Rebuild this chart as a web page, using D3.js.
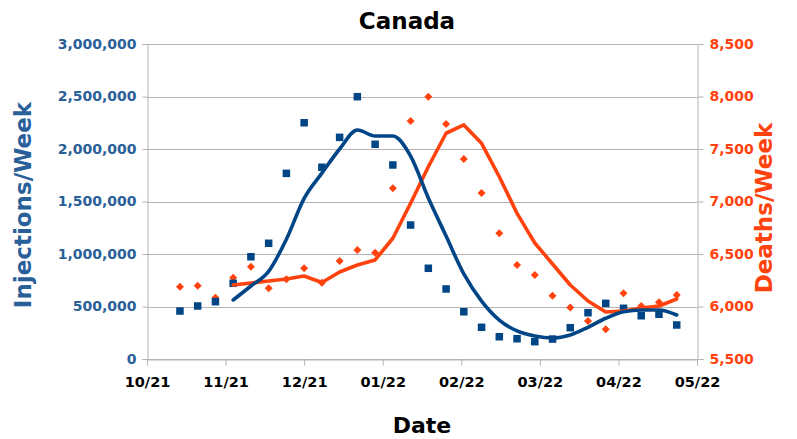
<!DOCTYPE html>
<html>
<head>
<meta charset="utf-8">
<script src="https://cdn.jsdelivr.net/npm/d3@7"></script>
<style>
  html, body { margin: 0; padding: 0; background: #ffffff; }
  svg { display: block; }
  text { font-family: "DejaVu Sans", sans-serif; font-weight: bold; }
</style>
</head>
<body>
<script>
// ---------------- data ----------------
const weekDates = [
  "2021-10-14","2021-10-21","2021-10-28","2021-11-04","2021-11-11","2021-11-18","2021-11-25",
  "2021-12-02","2021-12-09","2021-12-16","2021-12-23","2021-12-30","2022-01-06","2022-01-13",
  "2022-01-20","2022-01-27","2022-02-03","2022-02-10","2022-02-17","2022-02-24","2022-03-03",
  "2022-03-10","2022-03-17","2022-03-24","2022-03-31","2022-04-07","2022-04-14","2022-04-21",
  "2022-04-28"
];
const injections = [
  457000, 505000, 546000, 721000, 974000, 1102000, 1768000, 2250000, 1826000, 2111000,
  2498000, 2045000, 1848000, 1276000, 864000, 667000, 450000, 302000, 212000, 193000,
  165000, 190000, 298000, 441000, 530000, 483000, 412000, 426000, 324000
];
const deaths = [
  6189, 6198, 6084, 6274, 6379, 6173, 6259, 6364, 6227, 6433,
  6538, 6512, 7126, 7767, 7998, 7738, 7405, 7080, 6697, 6395,
  6300, 6103, 5990, 5862, 5783, 6126, 6005, 6040, 6110
];
const injectionsTrend = [
  null, null, null, 562000, 695000, 835000, 1140000, 1530000, 1770000, 2000000,
  2181000, 2124000, 2124000, 1933000, 1533000, 1171000, 810000, 552000, 371000, 267000,
  219000, 200000, 229000, 302000, 388000, 450000, 467000, 467000, 419000
];
const deathsTrend = [
  null, null, null, 6205, 6224, 6243, 6262, 6290, 6229, 6329,
  6395, 6443, 6650, 6983, 7331, 7650, 7729, 7554, 7236, 6887,
  6605, 6405, 6205, 6052, 5948, 5957, 5986, 6005, 6071
];
const xTickDates = ["2021-10-01","2021-11-01","2021-12-02","2022-01-02","2022-02-02","2022-03-05","2022-04-05","2022-05-06"];
const xTickLabels = ["10/21","11/21","12/21","01/22","02/22","03/22","04/22","05/22"];
const leftTicks = [0, 500000, 1000000, 1500000, 2000000, 2500000, 3000000];
const rightTicks = [5500, 6000, 6500, 7000, 7500, 8000, 8500];

const titleText = "Canada";
const leftTitle = "Injections/Week";
const rightTitle = "Deaths/Week";
const xTitle = "Date";

// ---------------- layout ----------------
const W = 797, H = 439;
const plot = { left: 147, right: 697, top: 44, bottom: 359 };
const BLUE = "#004586", ORANGE = "#ff420e";
const BLUE_TEXT = "#2a6099", ORANGE_TEXT = "#ff420e";
const GRID = "#b3b3b3";

const parse = d3.timeParse("%Y-%m-%d");

const x = d3.scaleTime()
  .domain([parse(xTickDates[0]), parse(xTickDates[xTickDates.length - 1])])
  .range([plot.left, plot.right]);
const yL = d3.scaleLinear().domain([0, 3000000]).range([plot.bottom, plot.top]);
const yR = d3.scaleLinear().domain([5500, 8500]).range([plot.bottom, plot.top]);

const svg = d3.select("body").append("svg").attr("width", W).attr("height", H);
svg.append("rect").attr("width", W).attr("height", H).attr("fill", "#fff");

// gridlines
svg.append("g").selectAll("line").data(leftTicks).join("line")
  .attr("x1", plot.left).attr("x2", plot.right)
  .attr("y1", d => Math.round(yL(d)) + 0.5).attr("y2", d => Math.round(yL(d)) + 0.5)
  .attr("stroke", GRID).attr("stroke-width", 1);

// left axis
const fmt = d3.format(",");
const gL = svg.append("g").attr("transform", `translate(${plot.left + 0.5},0)`)
  .call(d3.axisLeft(yL).tickValues(leftTicks).tickFormat(fmt).tickSize(5).tickPadding(6));
gL.select(".domain").attr("stroke", GRID);
gL.selectAll(".tick line").attr("stroke", GRID);
gL.selectAll(".tick text").attr("fill", BLUE_TEXT).style("font-size", "14px")
  .style("font-family", "DejaVu Sans").style("font-weight", "bold");

// right axis
const gR = svg.append("g").attr("transform", `translate(${plot.right + 0.5},0)`)
  .call(d3.axisRight(yR).tickValues(rightTicks).tickFormat(fmt).tickSize(6).tickPadding(6));
gR.select(".domain").attr("stroke", GRID);
gR.selectAll(".tick line").attr("stroke", GRID);
gR.selectAll(".tick text").attr("fill", ORANGE_TEXT).style("font-size", "14px")
  .style("font-family", "DejaVu Sans").style("font-weight", "bold");

// bottom axis
const gB = svg.append("g").attr("transform", `translate(0,${plot.bottom + 0.5})`)
  .call(d3.axisBottom(x).tickValues(xTickDates.map(parse))
    .tickFormat((d, i) => xTickLabels[i]).tickSize(6).tickPadding(11));
gB.select(".domain").attr("stroke", GRID);
gB.selectAll(".tick line").attr("stroke", GRID);
gB.selectAll(".tick text").attr("fill", "#000").style("font-size", "14.5px")
  .style("font-family", "DejaVu Sans").style("font-weight", "bold");

// markers: deaths diamonds
const pts = weekDates.map((d, i) => ({
  date: parse(d), inj: injections[i], dth: deaths[i],
  injT: injectionsTrend[i], dthT: deathsTrend[i]
}));
const r = 4;
svg.append("g").selectAll("path").data(pts).join("path")
  .attr("d", `M0,${-r}L${r},0L0,${r}L${-r},0Z`)
  .attr("transform", d => `translate(${x(d.date)},${yR(d.dth)})`)
  .attr("fill", ORANGE);

// markers: injection squares
const s = 7.5;
svg.append("g").selectAll("rect").data(pts).join("rect")
  .attr("x", d => x(d.date) - s / 2).attr("y", d => yL(d.inj) - s / 2)
  .attr("width", s).attr("height", s).attr("fill", BLUE);

// trend lines
const lineR = d3.line().defined(d => d.dthT != null)
  .x(d => x(d.date)).y(d => yR(d.dthT));
svg.append("path").datum(pts).attr("d", lineR)
  .attr("fill", "none").attr("stroke", ORANGE).attr("stroke-width", 3.6)
  .attr("stroke-linejoin", "round").attr("stroke-linecap", "round");

const lineL = d3.line().defined(d => d.injT != null)
  .x(d => x(d.date)).y(d => yL(d.injT)).curve(d3.curveMonotoneX);
svg.append("path").datum(pts).attr("d", lineL)
  .attr("fill", "none").attr("stroke", BLUE).attr("stroke-width", 3.6)
  .attr("stroke-linejoin", "round").attr("stroke-linecap", "round");

// titles
svg.append("text").attr("x", 407).attr("y", 29).attr("text-anchor", "middle")
  .style("font-size", "23px").attr("fill", "#000").text(titleText);
svg.append("text").attr("x", 422).attr("y", 433).attr("text-anchor", "middle")
  .style("font-size", "22px").attr("fill", "#000").text(xTitle);
svg.append("text").attr("transform", `translate(31,205) rotate(-90)`)
  .attr("text-anchor", "middle").style("font-size", "23px")
  .attr("fill", BLUE_TEXT).text(leftTitle);
svg.append("text").attr("transform", `translate(772,208) rotate(-90)`)
  .attr("text-anchor", "middle").style("font-size", "23px")
  .attr("fill", ORANGE_TEXT).text(rightTitle);
</script>
</body>
</html>
